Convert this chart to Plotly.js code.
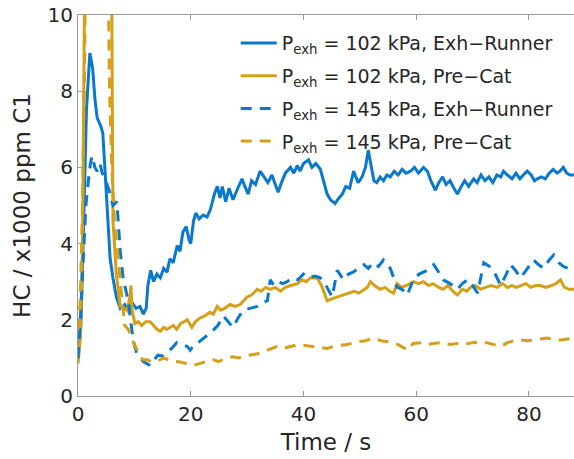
<!DOCTYPE html>
<html>
<head>
<meta charset="utf-8">
<script src="https://cdn.plot.ly/plotly-3.0.1.min.js"></script>
<style>
  html, body { margin: 0; padding: 0; background: #fff; }
  #chart { width: 574px; height: 459px; }
</style>
</head>
<body>
<div id="chart"></div>
<script>
// HC concentration after start, two exhaust back-pressures, two sampling points

const seriesNames = [
  'P<sub>exh</sub> = 102 kPa, Exh\u2212Runner',
  'P<sub>exh</sub> = 102 kPa, Pre\u2212Cat',
  'P<sub>exh</sub> = 145 kPa, Exh\u2212Runner',
  'P<sub>exh</sub> = 145 kPa, Pre\u2212Cat'
];

// 102 kPa, exhaust runner
const t102Runner = [0,0.5,1.0,1.5,2.1,2.6,3.0,3.4,4.0,4.4,4.8,5.3,5.7,6.2,6.8,7.5,8.3,9.0,9.6,10.3,11.0,11.6,12.1,12.4,12.9,13.4,14.0,14.6,15.2,15.8,16.3,16.9,17.6,18.1,18.6,19.2,19.7,20.0,20.5,20.9,21.5,22.2,22.9,23.5,24.2,24.7,25.2,25.6,26.2,26.8,27.5,28.2,29.1,29.6,30.2,30.8,31.5,32.3,33.0,33.7,34.4,35.0,35.5,36.1,36.8,37.7,38.3,38.9,39.4,40.0,40.9,41.5,42.2,43.0,43.6,44.2,44.8,45.6,46.3,46.9,47.5,48.2,48.9,49.3,49.7,50.4,51.0,51.5,52.0,52.5,53.0,53.6,54.2,54.8,55.4,56.1,56.8,57.5,58.2,59.0,59.7,60.4,61.3,62.0,62.6,63.4,64.0,64.7,65.3,66.0,66.7,67.3,68.0,68.6,69.3,70.2,70.8,71.5,72.2,72.9,73.6,74.3,75.0,75.5,76.2,77.0,77.7,78.4,79.0,79.7,80.4,81.0,81.5,82.2,82.9,83.6,84.3,85.0,85.5,86.1,86.7,87.3,88];
const hc102Runner = [0.95,1.8,4.5,7.5,9.0,8.6,7.8,7.3,7.1,6.9,5.9,4.7,3.6,3.1,2.6,2.3,2.4,2.2,2.45,2.3,2.35,2.15,2.3,2.9,3.3,3.0,3.2,3.1,3.35,3.25,3.6,3.5,3.95,3.8,4.3,4.45,4.1,4.0,4.6,4.8,4.65,4.75,4.7,4.9,5.3,5.5,5.2,5.5,5.1,5.45,5.15,5.4,5.7,5.5,5.3,5.65,5.55,5.9,5.75,5.6,5.8,5.55,5.35,5.6,5.85,6.0,5.85,6.05,5.9,6.1,6.2,6.0,6.1,5.95,5.6,5.3,5.15,5.05,5.2,5.3,5.5,5.45,5.9,5.75,5.6,5.75,6.0,6.45,6.0,5.65,5.6,5.75,5.65,5.8,5.75,5.9,5.8,5.95,5.85,5.9,6.0,5.85,6.0,5.9,5.65,5.4,5.6,5.75,5.55,5.65,5.45,5.3,5.5,5.65,5.5,5.7,5.6,5.8,5.65,5.75,5.6,5.8,5.75,5.9,5.8,5.7,5.85,5.7,5.8,5.9,5.8,5.65,5.7,5.75,5.7,5.85,5.95,5.85,5.9,6.0,5.85,5.8,5.8];

// 102 kPa, pre-catalyst
const t102PreCat = [0,0.4,0.8,1.1,1.3,5.9,6.2,6.8,7.5,8.1,8.7,9.2,9.4,9.6,10.1,10.7,11.3,12.0,12.8,13.4,14.0,14.6,15.2,15.8,16.3,16.9,17.5,18.2,18.8,19.4,20.2,20.8,21.7,22.5,23.4,24.0,24.7,25.3,26.0,27.0,27.8,28.8,29.4,30.0,30.8,31.8,32.5,33.3,34.1,35.0,35.9,36.8,37.8,38.9,39.8,40.5,41.2,42.4,43.2,44.2,45.0,46.0,47.0,48.0,49.0,49.8,50.7,51.3,51.9,52.6,53.6,54.5,55.3,56.0,56.6,57.4,58.3,59.5,60.4,61.3,62.2,63.0,64.0,64.8,65.6,66.5,67.3,68.2,69.0,69.6,70.5,71.4,72.3,73.3,74.4,75.3,76.2,77.0,77.8,78.5,79.5,80.3,81.2,82.0,83.0,84.0,84.8,85.6,86.3,87.2,88];
const hc102PreCat = [0.85,1.5,4.0,9.0,13,13,4.6,3.2,2.35,2.3,2.25,2.6,2.9,2.25,1.9,1.95,1.85,1.95,1.95,1.85,1.75,1.7,1.8,1.75,1.8,1.85,1.75,1.9,1.95,2.0,1.8,1.95,2.05,2.1,2.2,2.15,2.35,2.25,2.3,2.4,2.35,2.4,2.5,2.6,2.65,2.8,2.75,2.85,2.8,2.85,2.75,2.85,2.9,2.95,3.05,3.0,3.1,3.1,2.9,2.5,2.55,2.6,2.65,2.7,2.75,2.7,2.8,2.85,3.0,2.9,2.8,2.85,2.75,2.7,2.95,2.85,2.9,3.0,2.95,3.0,2.9,2.95,2.85,2.8,2.9,2.75,2.65,2.8,2.75,2.85,2.9,2.8,2.85,2.9,2.85,2.95,2.85,2.9,2.85,2.9,2.95,2.85,2.9,2.9,2.85,2.9,2.95,3.05,2.85,2.8,2.8];

// 145 kPa, exhaust runner
const t145Runner = [0,0.4,0.9,1.4,1.8,2.2,2.5,3.0,3.4,3.9,4.3,4.8,5.5,6.2,6.9,7.2,7.5,8.0,8.5,8.9,9.4,9.8,10.4,11.0,11.6,12.2,12.8,13.5,14.2,15.0,15.8,16.6,17.5,18.4,19.4,19.9,20.6,21.3,22.2,23.0,24.0,24.8,25.8,26.6,27.5,28.4,29.3,30.5,31.8,32.7,33.6,34.1,34.8,35.6,36.3,37.1,38.0,39.0,40.0,40.9,42.0,43.0,44.0,45.1,46.0,47.1,48.0,48.8,49.7,50.7,51.5,52.4,53.3,54.2,55.4,56.0,56.6,57.5,58.4,59.5,60.5,62.0,63.1,64.0,64.8,66.0,67.3,68.2,69.1,70.0,70.9,72.0,73.0,73.7,74.3,75.0,76.0,76.7,77.6,78.5,79.5,80.8,81.7,82.6,83.5,84.4,85.3,86.1,87.0,88];
const hc145Runner = [1.0,1.9,3.5,5.0,5.6,6.1,6.3,6.0,5.9,6.1,5.85,5.7,5.4,5.0,5.1,4.4,3.8,3.1,2.8,2.5,1.9,1.47,1.13,1.0,0.9,0.85,0.8,0.95,1.07,1.05,1.13,1.25,1.4,1.35,1.3,1.2,1.35,1.4,1.5,1.6,1.73,1.85,2.1,1.95,1.8,2.05,2.25,2.3,2.35,2.45,2.5,3.05,2.9,3.0,2.95,3.0,3.1,3.05,3.2,3.1,3.15,3.1,2.9,2.6,3.3,3.05,3.2,3.25,3.35,3.45,3.35,3.5,3.4,3.57,3.35,3.1,2.86,2.8,2.65,3.05,3.2,3.3,3.45,3.25,3.05,2.95,2.8,2.95,3.05,2.9,2.7,3.5,3.4,3.3,3.1,2.9,3.2,3.45,3.3,3.1,3.3,3.57,3.45,3.35,3.55,3.7,3.5,3.4,3.35,3.4];

// 145 kPa, pre-catalyst
const t145PreCat = [0,0.4,0.8,1.2,1.4,5.2,5.6,6.0,6.5,6.9,7.5,8.0,8.3,8.9,9.5,10.0,10.5,11.0,11.5,12.3,13.0,14.0,15.1,16.0,17.0,18.0,18.6,19.5,20.4,21.5,22.8,24.0,25.0,26.2,27.5,28.5,29.5,30.5,31.5,32.3,33.5,34.5,35.3,36.5,38.0,39.0,40.0,41.2,42.5,44.2,45.3,46.5,47.8,49.5,51.0,52.4,53.8,55.4,56.8,58.0,58.4,59.5,61.0,62.0,63.0,64.5,66.0,67.3,68.5,70.0,71.4,72.5,73.7,75.0,76.2,77.3,78.5,79.8,81.0,82.2,83.3,84.5,85.8,87.0,88];
const hc145PreCat = [1.75,2.5,5.0,9.0,13,13,8.0,6.0,4.5,4.0,3.0,2.2,1.85,1.75,1.5,1.35,1.2,1.05,0.95,0.95,0.9,0.9,1.0,0.95,0.9,0.9,0.87,0.85,0.8,0.85,0.9,0.95,0.9,1.0,1.03,1.0,1.05,1.07,1.1,1.12,1.2,1.25,1.3,1.25,1.3,1.35,1.33,1.3,1.28,1.25,1.3,1.33,1.35,1.42,1.45,1.52,1.45,1.42,1.35,1.25,1.2,1.38,1.4,1.35,1.38,1.4,1.35,1.38,1.35,1.4,1.42,1.4,1.35,1.3,1.4,1.45,1.47,1.45,1.48,1.5,1.52,1.48,1.47,1.5,1.47];

const xTicks = [0, 20, 40, 60, 80];
const yTicks = [0, 2, 4, 6, 8, 10];

const BLUE = '#0a78cc';
const GOLD = '#d4a017';
const dash = '11px,8px';

// each trace in its own legend group so the group gap spaces the rows
const traces = [
  { x: t102Runner, y: hc102Runner, name: seriesNames[0], legendgroup: 'g1', line: { color: BLUE, width: 3 } },
  { x: t102PreCat, y: hc102PreCat, name: seriesNames[1], legendgroup: 'g2', line: { color: GOLD, width: 3 } },
  { x: t145Runner, y: hc145Runner, name: seriesNames[2], legendgroup: 'g3', line: { color: BLUE, width: 3, dash: dash } },
  { x: t145PreCat, y: hc145PreCat, name: seriesNames[3], legendgroup: 'g4', line: { color: GOLD, width: 3, dash: dash } }
].map(tr => Object.assign({ type: 'scatter', mode: 'lines', hoverinfo: 'skip' }, tr));

const FONT = 'DejaVu Sans, sans-serif';
const TXT = '#262626';
const AX = '#999999';

const layout = {
  width: 574,
  height: 459,
  margin: { l: 78, r: 0, t: 15, b: 63 },
  paper_bgcolor: '#ffffff',
  plot_bgcolor: '#ffffff',
  font: { family: FONT, color: TXT },
  showlegend: true,
  legend: {
    x: 0.318, y: 0.976, xanchor: 'left', yanchor: 'top',
    bgcolor: 'rgba(0,0,0,0)', borderwidth: 0,
    font: { family: FONT, size: 19, color: TXT },
    itemwidth: 36, tracegroupgap: 5, traceorder: 'grouped'
  },
  xaxis: {
    range: [0, 88],
    tickvals: xTicks,
    ticktext: xTicks.map(String),
    ticks: 'inside', ticklen: 5, tickcolor: AX, tickwidth: 1,
    showline: true, linecolor: AX, linewidth: 1, mirror: 'ticks',
    showgrid: false, zeroline: false,
    tickfont: { family: FONT, size: 20, color: TXT },
    title: { text: 'Time / s', font: { family: FONT, size: 23, color: TXT }, standoff: 8 }
  },
  yaxis: {
    range: [0, 10],
    tickvals: yTicks,
    ticktext: yTicks.map(String),
    ticks: 'inside', ticklen: 5, tickcolor: AX, tickwidth: 1,
    showline: true, linecolor: AX, linewidth: 1,
    showgrid: false, zeroline: false,
    tickfont: { family: FONT, size: 20, color: TXT },
    title: { text: 'HC / x1000 ppm C1', font: { family: FONT, size: 23, color: TXT }, standoff: 10 }
  }
};

Plotly.newPlot('chart', traces, layout, { staticPlot: true, displayModeBar: false });
</script>
</body>
</html>
